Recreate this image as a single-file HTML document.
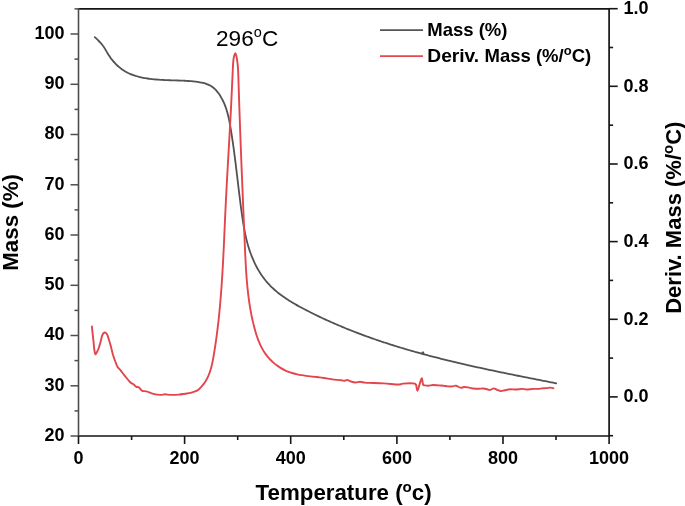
<!DOCTYPE html>
<html><head><meta charset="utf-8"><style>
html,body{margin:0;padding:0;background:#fff;}
body{width:685px;height:506px;overflow:hidden;font-family:"Liberation Sans",sans-serif;}
svg{display:block;will-change:transform;}
</style></head><body>
<svg width="685" height="506" viewBox="0 0 685 506">
<path d="M78.5,8.9 H609.1 V436.0 H78.5" fill="none" stroke="#141414" stroke-width="1.7"/>
<line x1="78.5" y1="8.1" x2="78.5" y2="436.8" stroke="#4e4e4e" stroke-width="1.6"/>
<line x1="70.5" y1="436.0" x2="78.5" y2="436.0" stroke="#4e4e4e" stroke-width="1.5"/>
<text x="64.6" y="440.9" text-anchor="end" font-size="18" font-weight="bold" font-family="Liberation Sans, sans-serif">20</text>
<line x1="74.5" y1="410.9" x2="78.5" y2="410.9" stroke="#4e4e4e" stroke-width="1.5"/>
<line x1="70.5" y1="385.8" x2="78.5" y2="385.8" stroke="#4e4e4e" stroke-width="1.5"/>
<text x="64.6" y="390.7" text-anchor="end" font-size="18" font-weight="bold" font-family="Liberation Sans, sans-serif">30</text>
<line x1="74.5" y1="360.6" x2="78.5" y2="360.6" stroke="#4e4e4e" stroke-width="1.5"/>
<line x1="70.5" y1="335.5" x2="78.5" y2="335.5" stroke="#4e4e4e" stroke-width="1.5"/>
<text x="64.6" y="340.4" text-anchor="end" font-size="18" font-weight="bold" font-family="Liberation Sans, sans-serif">40</text>
<line x1="74.5" y1="310.4" x2="78.5" y2="310.4" stroke="#4e4e4e" stroke-width="1.5"/>
<line x1="70.5" y1="285.3" x2="78.5" y2="285.3" stroke="#4e4e4e" stroke-width="1.5"/>
<text x="64.6" y="290.2" text-anchor="end" font-size="18" font-weight="bold" font-family="Liberation Sans, sans-serif">50</text>
<line x1="74.5" y1="260.1" x2="78.5" y2="260.1" stroke="#4e4e4e" stroke-width="1.5"/>
<line x1="70.5" y1="235.0" x2="78.5" y2="235.0" stroke="#4e4e4e" stroke-width="1.5"/>
<text x="64.6" y="239.9" text-anchor="end" font-size="18" font-weight="bold" font-family="Liberation Sans, sans-serif">60</text>
<line x1="74.5" y1="209.9" x2="78.5" y2="209.9" stroke="#4e4e4e" stroke-width="1.5"/>
<line x1="70.5" y1="184.8" x2="78.5" y2="184.8" stroke="#4e4e4e" stroke-width="1.5"/>
<text x="64.6" y="189.7" text-anchor="end" font-size="18" font-weight="bold" font-family="Liberation Sans, sans-serif">70</text>
<line x1="74.5" y1="159.6" x2="78.5" y2="159.6" stroke="#4e4e4e" stroke-width="1.5"/>
<line x1="70.5" y1="134.5" x2="78.5" y2="134.5" stroke="#4e4e4e" stroke-width="1.5"/>
<text x="64.6" y="139.4" text-anchor="end" font-size="18" font-weight="bold" font-family="Liberation Sans, sans-serif">80</text>
<line x1="74.5" y1="109.4" x2="78.5" y2="109.4" stroke="#4e4e4e" stroke-width="1.5"/>
<line x1="70.5" y1="84.3" x2="78.5" y2="84.3" stroke="#4e4e4e" stroke-width="1.5"/>
<text x="64.6" y="89.2" text-anchor="end" font-size="18" font-weight="bold" font-family="Liberation Sans, sans-serif">90</text>
<line x1="74.5" y1="59.1" x2="78.5" y2="59.1" stroke="#4e4e4e" stroke-width="1.5"/>
<line x1="70.5" y1="34.0" x2="78.5" y2="34.0" stroke="#4e4e4e" stroke-width="1.5"/>
<text x="64.6" y="38.9" text-anchor="end" font-size="18" font-weight="bold" font-family="Liberation Sans, sans-serif">100</text>
<line x1="74.5" y1="8.9" x2="78.5" y2="8.9" stroke="#4e4e4e" stroke-width="1.5"/>
<line x1="609.1" y1="435.7" x2="613.1" y2="435.7" stroke="#161616" stroke-width="1.6"/>
<line x1="609.1" y1="396.9" x2="617.7" y2="396.9" stroke="#161616" stroke-width="1.6"/>
<text x="623.6" y="402.1" font-size="18" font-weight="bold" font-family="Liberation Sans, sans-serif">0.0</text>
<line x1="609.1" y1="358.1" x2="613.1" y2="358.1" stroke="#161616" stroke-width="1.6"/>
<line x1="609.1" y1="319.3" x2="617.7" y2="319.3" stroke="#161616" stroke-width="1.6"/>
<text x="623.6" y="324.5" font-size="18" font-weight="bold" font-family="Liberation Sans, sans-serif">0.2</text>
<line x1="609.1" y1="280.4" x2="613.1" y2="280.4" stroke="#161616" stroke-width="1.6"/>
<line x1="609.1" y1="241.6" x2="617.7" y2="241.6" stroke="#161616" stroke-width="1.6"/>
<text x="623.6" y="246.8" font-size="18" font-weight="bold" font-family="Liberation Sans, sans-serif">0.4</text>
<line x1="609.1" y1="202.8" x2="613.1" y2="202.8" stroke="#161616" stroke-width="1.6"/>
<line x1="609.1" y1="164.0" x2="617.7" y2="164.0" stroke="#161616" stroke-width="1.6"/>
<text x="623.6" y="169.2" font-size="18" font-weight="bold" font-family="Liberation Sans, sans-serif">0.6</text>
<line x1="609.1" y1="125.2" x2="613.1" y2="125.2" stroke="#161616" stroke-width="1.6"/>
<line x1="609.1" y1="86.3" x2="617.7" y2="86.3" stroke="#161616" stroke-width="1.6"/>
<text x="623.6" y="91.5" font-size="18" font-weight="bold" font-family="Liberation Sans, sans-serif">0.8</text>
<line x1="609.1" y1="47.5" x2="613.1" y2="47.5" stroke="#161616" stroke-width="1.6"/>
<line x1="609.1" y1="8.7" x2="617.7" y2="8.7" stroke="#161616" stroke-width="1.6"/>
<text x="623.6" y="13.9" font-size="18" font-weight="bold" font-family="Liberation Sans, sans-serif">1.0</text>
<line x1="78.5" y1="436.0" x2="78.5" y2="444.0" stroke="#161616" stroke-width="1.6"/>
<text x="78.5" y="463.7" text-anchor="middle" font-size="18" font-weight="bold" font-family="Liberation Sans, sans-serif">0</text>
<line x1="131.6" y1="436.0" x2="131.6" y2="440.0" stroke="#161616" stroke-width="1.6"/>
<line x1="184.6" y1="436.0" x2="184.6" y2="444.0" stroke="#161616" stroke-width="1.6"/>
<text x="184.6" y="463.7" text-anchor="middle" font-size="18" font-weight="bold" font-family="Liberation Sans, sans-serif">200</text>
<line x1="237.7" y1="436.0" x2="237.7" y2="440.0" stroke="#161616" stroke-width="1.6"/>
<line x1="290.7" y1="436.0" x2="290.7" y2="444.0" stroke="#161616" stroke-width="1.6"/>
<text x="290.7" y="463.7" text-anchor="middle" font-size="18" font-weight="bold" font-family="Liberation Sans, sans-serif">400</text>
<line x1="343.8" y1="436.0" x2="343.8" y2="440.0" stroke="#161616" stroke-width="1.6"/>
<line x1="396.9" y1="436.0" x2="396.9" y2="444.0" stroke="#161616" stroke-width="1.6"/>
<text x="396.9" y="463.7" text-anchor="middle" font-size="18" font-weight="bold" font-family="Liberation Sans, sans-serif">600</text>
<line x1="449.9" y1="436.0" x2="449.9" y2="440.0" stroke="#161616" stroke-width="1.6"/>
<line x1="503.0" y1="436.0" x2="503.0" y2="444.0" stroke="#161616" stroke-width="1.6"/>
<text x="503.0" y="463.7" text-anchor="middle" font-size="18" font-weight="bold" font-family="Liberation Sans, sans-serif">800</text>
<line x1="556.0" y1="436.0" x2="556.0" y2="440.0" stroke="#161616" stroke-width="1.6"/>
<line x1="609.1" y1="436.0" x2="609.1" y2="444.0" stroke="#161616" stroke-width="1.6"/>
<text x="609.1" y="463.7" text-anchor="middle" font-size="18" font-weight="bold" font-family="Liberation Sans, sans-serif">1000</text>
<path d="M94.78,37.19 C95.06,37.43 95.88,38.18 96.42,38.68 C96.96,39.18 97.50,39.69 98.02,40.20 C98.54,40.72 99.06,41.23 99.56,41.76 C100.06,42.29 100.55,42.83 101.02,43.38 C101.49,43.93 101.95,44.49 102.39,45.06 C102.83,45.63 103.25,46.22 103.65,46.82 C104.06,47.42 104.45,48.03 104.83,48.65 C105.21,49.26 105.58,49.89 105.95,50.51 C106.32,51.14 106.68,51.77 107.06,52.40 C107.43,53.02 107.80,53.65 108.19,54.27 C108.57,54.89 108.96,55.50 109.37,56.11 C109.78,56.71 110.20,57.31 110.62,57.90 C111.05,58.49 111.49,59.07 111.95,59.64 C112.40,60.22 112.86,60.78 113.33,61.33 C113.81,61.88 114.29,62.42 114.79,62.96 C115.28,63.49 115.79,64.01 116.30,64.52 C116.82,65.03 117.35,65.52 117.88,66.01 C118.42,66.49 118.97,66.96 119.53,67.42 C120.08,67.88 120.65,68.33 121.23,68.76 C121.81,69.19 122.40,69.61 122.99,70.01 C123.59,70.41 124.20,70.80 124.81,71.18 C125.43,71.55 126.06,71.90 126.69,72.24 C127.33,72.59 127.97,72.91 128.62,73.22 C129.28,73.53 129.94,73.82 130.61,74.10 C131.28,74.38 131.95,74.64 132.64,74.90 C133.32,75.15 134.01,75.38 134.70,75.61 C135.40,75.84 136.10,76.05 136.80,76.25 C137.51,76.45 138.22,76.64 138.93,76.82 C139.64,77.00 140.36,77.16 141.08,77.32 C141.80,77.48 142.52,77.63 143.25,77.77 C143.97,77.91 144.70,78.04 145.43,78.16 C146.15,78.28 146.88,78.40 147.61,78.50 C148.34,78.61 149.07,78.71 149.80,78.80 C150.53,78.90 151.25,78.98 151.98,79.06 C152.70,79.15 153.43,79.22 154.15,79.29 C154.87,79.36 155.59,79.43 156.31,79.49 C157.03,79.56 157.75,79.61 158.46,79.67 C159.18,79.72 159.90,79.77 160.61,79.82 C161.33,79.86 162.04,79.90 162.76,79.94 C163.47,79.98 164.19,80.02 164.90,80.05 C165.62,80.09 166.33,80.12 167.05,80.15 C167.77,80.18 168.48,80.21 169.20,80.23 C169.92,80.26 170.63,80.28 171.35,80.31 C172.07,80.33 172.79,80.35 173.51,80.37 C174.24,80.39 174.96,80.41 175.69,80.43 C176.41,80.45 177.14,80.47 177.86,80.50 C178.59,80.52 179.32,80.54 180.05,80.57 C180.78,80.59 181.51,80.62 182.24,80.65 C182.97,80.67 183.70,80.71 184.44,80.74 C185.17,80.78 185.90,80.82 186.63,80.86 C187.37,80.90 188.10,80.95 188.83,81.00 C189.57,81.06 190.30,81.11 191.04,81.18 C191.77,81.24 192.50,81.31 193.24,81.39 C193.97,81.47 194.70,81.55 195.44,81.64 C196.17,81.74 196.90,81.84 197.63,81.94 C198.36,82.05 199.09,82.17 199.82,82.30 C200.55,82.43 201.28,82.56 202.00,82.72 C202.72,82.87 203.43,83.04 204.14,83.23 C204.84,83.42 205.54,83.63 206.23,83.86 C206.91,84.09 207.59,84.34 208.25,84.63 C208.91,84.91 209.55,85.22 210.18,85.56 C210.80,85.90 211.41,86.27 212.00,86.68 C212.58,87.08 213.15,87.53 213.70,87.99 C214.25,88.46 214.77,88.96 215.29,89.47 C215.80,89.99 216.29,90.53 216.76,91.09 C217.24,91.64 217.69,92.22 218.13,92.81 C218.58,93.39 219.00,93.99 219.41,94.60 C219.82,95.20 220.21,95.82 220.59,96.44 C220.97,97.06 221.33,97.68 221.68,98.32 C222.03,98.95 222.37,99.59 222.69,100.23 C223.01,100.87 223.32,101.52 223.62,102.17 C223.92,102.83 224.20,103.49 224.48,104.15 C224.75,104.82 225.01,105.49 225.27,106.16 C225.52,106.83 225.76,107.51 225.99,108.19 C226.22,108.87 226.44,109.56 226.66,110.25 C226.87,110.94 227.07,111.63 227.27,112.33 C227.47,113.02 227.65,113.72 227.83,114.43 C228.01,115.13 228.19,115.83 228.35,116.54 C228.52,117.25 228.68,117.96 228.83,118.67 C228.99,119.38 229.14,120.10 229.28,120.81 C229.42,121.53 229.56,122.25 229.70,122.97 C229.83,123.69 229.96,124.41 230.09,125.13 C230.22,125.85 230.34,126.57 230.47,127.30 C230.59,128.02 230.71,128.74 230.83,129.46 C230.95,130.19 231.06,130.91 231.18,131.64 C231.29,132.36 231.41,133.08 231.52,133.81 C231.63,134.53 231.75,135.25 231.86,135.98 C231.97,136.70 232.08,137.42 232.19,138.15 C232.29,138.87 232.40,139.60 232.51,140.32 C232.61,141.04 232.72,141.77 232.82,142.49 C232.93,143.21 233.03,143.94 233.13,144.66 C233.23,145.39 233.33,146.11 233.43,146.83 C233.54,147.56 233.63,148.28 233.73,149.00 C233.83,149.73 233.93,150.45 234.03,151.17 C234.12,151.90 234.22,152.62 234.31,153.35 C234.41,154.07 234.50,154.79 234.60,155.52 C234.69,156.24 234.79,156.96 234.88,157.69 C234.97,158.41 235.06,159.13 235.15,159.86 C235.25,160.58 235.34,161.30 235.43,162.02 C235.52,162.75 235.61,163.47 235.70,164.19 C235.79,164.92 235.87,165.64 235.96,166.36 C236.05,167.09 236.14,167.81 236.23,168.53 C236.32,169.25 236.40,169.98 236.49,170.70 C236.58,171.42 236.67,172.14 236.75,172.86 C236.84,173.59 236.93,174.31 237.01,175.03 C237.10,175.75 237.18,176.47 237.27,177.20 C237.36,177.92 237.44,178.64 237.53,179.36 C237.61,180.08 237.70,180.80 237.79,181.52 C237.87,182.24 237.96,182.97 238.04,183.69 C238.13,184.41 238.22,185.13 238.30,185.85 C238.39,186.57 238.48,187.29 238.56,188.01 C238.65,188.73 238.74,189.45 238.82,190.17 C238.91,190.89 239.00,191.61 239.08,192.33 C239.17,193.05 239.26,193.77 239.35,194.49 C239.44,195.20 239.52,195.92 239.61,196.64 C239.70,197.36 239.79,198.08 239.88,198.80 C239.97,199.52 240.06,200.23 240.15,200.95 C240.24,201.67 240.33,202.39 240.42,203.10 C240.52,203.82 240.61,204.54 240.70,205.26 C240.80,205.97 240.89,206.69 240.98,207.41 C241.08,208.12 241.17,208.84 241.27,209.55 C241.36,210.27 241.46,210.99 241.56,211.70 C241.66,212.42 241.75,213.13 241.85,213.85 C241.95,214.56 242.05,215.28 242.15,215.99 C242.26,216.71 242.36,217.42 242.46,218.13 C242.57,218.85 242.67,219.56 242.78,220.27 C242.89,220.99 243.00,221.70 243.11,222.41 C243.23,223.12 243.34,223.84 243.46,224.55 C243.58,225.26 243.70,225.97 243.82,226.68 C243.94,227.39 244.07,228.10 244.20,228.81 C244.33,229.52 244.46,230.23 244.60,230.93 C244.73,231.64 244.87,232.35 245.02,233.06 C245.16,233.76 245.31,234.47 245.46,235.18 C245.62,235.88 245.77,236.59 245.94,237.29 C246.10,238.00 246.26,238.70 246.43,239.40 C246.61,240.11 246.78,240.81 246.96,241.51 C247.15,242.21 247.33,242.91 247.52,243.61 C247.72,244.31 247.92,245.01 248.12,245.71 C248.32,246.41 248.53,247.11 248.75,247.81 C248.97,248.50 249.19,249.20 249.42,249.89 C249.65,250.59 249.88,251.28 250.13,251.98 C250.37,252.67 250.62,253.36 250.88,254.05 C251.13,254.75 251.40,255.44 251.67,256.13 C251.94,256.81 252.22,257.50 252.51,258.19 C252.79,258.87 253.09,259.55 253.39,260.23 C253.69,260.91 254.00,261.59 254.31,262.27 C254.63,262.94 254.95,263.61 255.28,264.28 C255.61,264.94 255.94,265.61 256.29,266.27 C256.63,266.93 256.98,267.58 257.34,268.23 C257.70,268.88 258.07,269.53 258.44,270.17 C258.82,270.81 259.20,271.44 259.59,272.07 C259.97,272.70 260.37,273.32 260.77,273.94 C261.18,274.55 261.59,275.16 262.01,275.76 C262.42,276.37 262.85,276.96 263.28,277.55 C263.72,278.14 264.16,278.72 264.60,279.29 C265.05,279.87 265.51,280.43 265.97,280.99 C266.43,281.54 266.90,282.09 267.38,282.63 C267.86,283.17 268.34,283.71 268.83,284.23 C269.32,284.76 269.82,285.28 270.33,285.79 C270.83,286.30 271.34,286.80 271.86,287.30 C272.37,287.79 272.90,288.28 273.43,288.77 C273.95,289.25 274.49,289.73 275.03,290.20 C275.57,290.67 276.12,291.13 276.67,291.59 C277.22,292.05 277.77,292.50 278.34,292.94 C278.90,293.39 279.46,293.83 280.03,294.26 C280.61,294.70 281.18,295.13 281.76,295.55 C282.34,295.97 282.93,296.39 283.52,296.80 C284.10,297.22 284.70,297.63 285.29,298.03 C285.89,298.43 286.49,298.83 287.09,299.23 C287.70,299.62 288.31,300.01 288.92,300.40 C289.53,300.78 290.14,301.17 290.76,301.54 C291.38,301.92 292.00,302.30 292.62,302.67 C293.24,303.04 293.87,303.41 294.50,303.77 C295.12,304.13 295.75,304.49 296.39,304.85 C297.02,305.21 297.65,305.57 298.29,305.92 C298.93,306.27 299.56,306.62 300.20,306.97 C300.84,307.31 301.48,307.66 302.13,308.00 C302.77,308.34 303.41,308.68 304.06,309.02 C304.70,309.36 305.35,309.70 305.99,310.03 C306.64,310.37 307.28,310.70 307.93,311.03 C308.58,311.36 309.23,311.69 309.88,312.02 C310.53,312.35 311.17,312.68 311.83,313.00 C312.48,313.33 313.13,313.65 313.78,313.97 C314.43,314.30 315.08,314.62 315.74,314.93 C316.39,315.25 317.04,315.57 317.70,315.89 C318.35,316.20 319.01,316.52 319.66,316.83 C320.32,317.14 320.98,317.45 321.63,317.76 C322.29,318.07 322.95,318.38 323.61,318.69 C324.27,318.99 324.92,319.30 325.58,319.60 C326.24,319.90 326.90,320.21 327.57,320.51 C328.23,320.81 328.89,321.11 329.55,321.40 C330.21,321.70 330.88,322.00 331.54,322.29 C332.20,322.58 332.87,322.88 333.53,323.17 C334.20,323.46 334.86,323.75 335.53,324.04 C336.20,324.33 336.86,324.61 337.53,324.90 C338.20,325.19 338.87,325.47 339.54,325.75 C340.20,326.04 340.87,326.32 341.54,326.60 C342.21,326.88 342.88,327.16 343.55,327.43 C344.23,327.71 344.90,327.99 345.57,328.26 C346.24,328.54 346.91,328.81 347.59,329.08 C348.26,329.35 348.93,329.62 349.61,329.89 C350.28,330.16 350.96,330.43 351.63,330.69 C352.31,330.96 352.99,331.23 353.66,331.49 C354.34,331.75 355.02,332.02 355.69,332.28 C356.37,332.54 357.05,332.80 357.73,333.06 C358.41,333.32 359.09,333.57 359.77,333.83 C360.45,334.08 361.13,334.34 361.81,334.59 C362.49,334.85 363.17,335.10 363.85,335.35 C364.53,335.60 365.21,335.85 365.90,336.10 C366.58,336.35 367.26,336.59 367.95,336.84 C368.63,337.08 369.32,337.33 370.00,337.57 C370.68,337.82 371.37,338.06 372.06,338.30 C372.74,338.54 373.43,338.78 374.11,339.02 C374.80,339.26 375.49,339.50 376.17,339.73 C376.86,339.97 377.55,340.20 378.24,340.44 C378.93,340.67 379.62,340.91 380.30,341.14 C380.99,341.37 381.68,341.60 382.37,341.83 C383.06,342.06 383.75,342.29 384.45,342.51 C385.14,342.74 385.83,342.97 386.52,343.19 C387.21,343.42 387.90,343.64 388.60,343.86 C389.29,344.09 389.98,344.31 390.67,344.53 C391.37,344.75 392.06,344.97 392.76,345.19 C393.45,345.41 394.14,345.63 394.84,345.84 C395.53,346.06 396.23,346.27 396.93,346.49 C397.62,346.70 398.32,346.92 399.01,347.13 C399.71,347.34 400.41,347.55 401.10,347.76 C401.80,347.97 402.50,348.18 403.20,348.39 C403.89,348.60 404.59,348.81 405.29,349.01 C405.99,349.22 406.69,349.43 407.39,349.63 C408.09,349.84 408.79,350.04 409.49,350.24 C410.18,350.44 410.89,350.65 411.59,350.85 C412.29,351.05 412.99,351.25 413.69,351.45 C414.39,351.65 415.09,351.84 415.79,352.04 C416.49,352.24 417.19,352.43 417.90,352.63 C418.60,352.83 419.30,353.02 420.00,353.21 C420.71,353.41 421.41,353.60 422.11,353.79 C422.82,353.98 423.52,354.17 424.22,354.36 C424.93,354.55 425.63,354.74 426.34,354.93 C427.04,355.12 427.75,355.31 428.45,355.50 C429.16,355.68 429.86,355.87 430.57,356.05 C431.27,356.24 431.98,356.42 432.68,356.61 C433.39,356.79 434.09,356.97 434.80,357.16 C435.51,357.34 436.21,357.52 436.92,357.70 C437.63,357.88 438.33,358.06 439.04,358.24 C439.75,358.42 440.46,358.60 441.16,358.77 C441.87,358.95 442.58,359.13 443.29,359.30 C443.99,359.48 444.70,359.66 445.41,359.83 C446.12,360.01 446.83,360.18 447.54,360.35 C448.24,360.53 448.95,360.70 449.66,360.87 C450.37,361.04 451.08,361.21 451.79,361.38 C452.50,361.56 453.21,361.72 453.92,361.89 C454.63,362.06 455.34,362.23 456.05,362.40 C456.76,362.57 457.47,362.74 458.18,362.90 C458.89,363.07 459.60,363.24 460.31,363.40 C461.02,363.57 461.73,363.73 462.44,363.90 C463.15,364.06 463.86,364.22 464.57,364.39 C465.28,364.55 465.99,364.71 466.70,364.87 C467.41,365.04 468.13,365.20 468.84,365.36 C469.55,365.52 470.26,365.68 470.97,365.84 C471.68,366.00 472.39,366.16 473.11,366.32 C473.82,366.48 474.53,366.63 475.24,366.79 C475.95,366.95 476.66,367.11 477.38,367.26 C478.09,367.42 478.80,367.58 479.51,367.73 C480.22,367.89 480.94,368.04 481.65,368.20 C482.36,368.35 483.07,368.51 483.78,368.66 C484.50,368.81 485.21,368.97 485.92,369.12 C486.63,369.27 487.34,369.43 488.06,369.58 C488.77,369.73 489.48,369.88 490.19,370.03 C490.91,370.18 491.62,370.34 492.33,370.49 C493.04,370.64 493.75,370.79 494.47,370.94 C495.18,371.09 495.89,371.24 496.60,371.38 C497.32,371.53 498.03,371.68 498.74,371.83 C499.45,371.98 500.16,372.13 500.88,372.27 C501.59,372.42 502.30,372.57 503.01,372.71 C503.73,372.86 504.44,373.01 505.15,373.15 C505.86,373.30 506.57,373.45 507.29,373.59 C508.00,373.74 508.71,373.88 509.42,374.03 C510.13,374.17 510.84,374.32 511.56,374.46 C512.27,374.61 512.98,374.75 513.69,374.89 C514.40,375.04 515.11,375.18 515.82,375.33 C516.54,375.47 517.25,375.61 517.96,375.75 C518.67,375.90 519.38,376.04 520.09,376.18 C520.80,376.33 521.51,376.47 522.22,376.61 C522.93,376.75 523.64,376.89 524.36,377.03 C525.07,377.18 525.78,377.32 526.49,377.46 C527.20,377.60 527.91,377.74 528.62,377.88 C529.33,378.02 530.04,378.16 530.75,378.30 C531.46,378.45 532.17,378.59 532.87,378.73 C533.58,378.87 534.29,379.01 535.00,379.15 C535.71,379.29 536.42,379.43 537.13,379.57 C537.84,379.71 538.55,379.85 539.25,379.99 C539.96,380.13 540.67,380.27 541.38,380.41 C542.09,380.54 542.79,380.68 543.50,380.82 C544.21,380.96 544.92,381.10 545.62,381.24 C546.33,381.38 547.04,381.52 547.75,381.66 C548.45,381.80 549.16,381.94 549.87,382.08 C550.57,382.22 551.28,382.36 551.98,382.49 C552.69,382.63 553.40,382.77 554.10,382.91 C554.81,383.05 555.86,383.26 556.22,383.33" fill="none" stroke="#525252" stroke-width="1.8" stroke-linejoin="round" stroke-linecap="round"/>
<path d="M91.90,326.50 C92.03,327.78 92.43,331.72 92.70,334.20 C92.97,336.68 93.23,338.82 93.50,341.40 C93.77,343.98 93.98,347.57 94.30,349.70 C94.62,351.83 94.97,353.82 95.40,354.20 C95.83,354.58 96.37,352.95 96.90,352.00 C97.43,351.05 98.02,350.07 98.60,348.50 C99.18,346.93 99.80,344.78 100.40,342.60 C101.00,340.42 101.50,337.08 102.20,335.40 C102.90,333.72 103.80,332.70 104.60,332.50 C105.40,332.30 106.32,333.12 107.00,334.20 C107.68,335.28 108.12,337.22 108.70,339.00 C109.28,340.78 109.80,342.33 110.50,344.90 C111.20,347.47 112.10,351.63 112.90,354.40 C113.70,357.17 114.52,359.42 115.30,361.50 C116.08,363.58 116.72,365.42 117.60,366.90 C118.48,368.38 119.40,368.92 120.60,370.40 C121.80,371.88 123.23,373.87 124.80,375.80 C126.37,377.73 128.55,380.58 130.00,382.00 C131.45,383.42 132.43,383.48 133.50,384.30 C134.57,385.12 135.52,386.40 136.40,386.90 C137.28,387.40 137.82,386.65 138.80,387.30 C139.78,387.95 141.03,390.12 142.30,390.80 C143.57,391.48 144.55,390.88 146.40,391.40 C148.25,391.92 151.07,393.32 153.40,393.90 C155.73,394.48 158.47,394.83 160.40,394.90 C162.33,394.97 163.25,394.30 165.00,394.30 C166.75,394.30 168.57,394.85 170.90,394.90 C173.23,394.95 176.67,394.80 179.00,394.60 C181.33,394.40 182.95,394.00 184.90,393.70 C186.85,393.40 188.67,393.31 190.70,392.80 C192.73,392.29 195.41,391.52 197.06,390.66 C198.70,389.79 199.51,388.66 200.59,387.59 C201.67,386.51 202.65,385.38 203.55,384.20 C204.46,383.03 205.27,381.80 206.02,380.54 C206.76,379.28 207.42,377.97 208.04,376.64 C208.65,375.30 209.18,373.93 209.68,372.53 C210.18,371.14 210.61,369.71 211.02,368.27 C211.42,366.83 211.77,365.36 212.11,363.88 C212.44,362.41 212.73,360.91 213.02,359.42 C213.30,357.92 213.55,356.41 213.81,354.90 C214.06,353.40 214.30,351.89 214.54,350.38 C214.78,348.87 215.01,347.37 215.24,345.86 C215.47,344.36 215.69,342.85 215.90,341.35 C216.12,339.84 216.32,338.34 216.53,336.83 C216.73,335.33 216.93,333.82 217.12,332.32 C217.31,330.82 217.50,329.31 217.68,327.81 C217.86,326.30 218.04,324.80 218.21,323.30 C218.38,321.80 218.54,320.29 218.71,318.79 C218.87,317.29 219.02,315.78 219.18,314.28 C219.33,312.78 219.48,311.28 219.62,309.78 C219.76,308.27 219.90,306.77 220.04,305.27 C220.17,303.77 220.30,302.27 220.43,300.77 C220.56,299.26 220.68,297.76 220.80,296.26 C220.92,294.76 221.04,293.26 221.15,291.76 C221.27,290.25 221.38,288.75 221.48,287.25 C221.59,285.75 221.69,284.25 221.80,282.75 C221.90,281.24 222.00,279.74 222.09,278.24 C222.19,276.74 222.28,275.24 222.37,273.73 C222.46,272.23 222.55,270.73 222.64,269.23 C222.72,267.72 222.81,266.22 222.89,264.72 C222.97,263.22 223.05,261.71 223.13,260.21 C223.21,258.71 223.29,257.20 223.36,255.70 C223.44,254.19 223.51,252.69 223.58,251.19 C223.66,249.68 223.73,248.18 223.80,246.67 C223.87,245.17 223.94,243.66 224.01,242.16 C224.08,240.65 224.15,239.14 224.22,237.64 C224.28,236.13 224.35,234.62 224.42,233.12 C224.49,231.61 224.55,230.10 224.62,228.59 C224.69,227.09 224.75,225.58 224.82,224.07 C224.89,222.56 224.96,221.05 225.02,219.54 C225.09,218.03 225.16,216.52 225.23,215.01 C225.30,213.50 225.37,211.99 225.44,210.47 C225.51,208.96 225.58,207.45 225.65,205.94 C225.73,204.42 225.80,202.91 225.87,201.39 C225.95,199.88 226.03,198.36 226.10,196.85 C226.18,195.33 226.26,193.82 226.34,192.30 C226.42,190.79 226.50,189.27 226.58,187.75 C226.66,186.24 226.74,184.72 226.82,183.20 C226.90,181.69 226.99,180.17 227.07,178.65 C227.15,177.14 227.24,175.62 227.32,174.10 C227.41,172.59 227.49,171.07 227.58,169.55 C227.66,168.04 227.75,166.52 227.83,165.01 C227.92,163.49 228.01,161.98 228.09,160.46 C228.18,158.95 228.26,157.44 228.35,155.92 C228.44,154.41 228.52,152.90 228.61,151.39 C228.70,149.87 228.78,148.36 228.87,146.85 C228.96,145.34 229.04,143.83 229.13,142.33 C229.21,140.82 229.30,139.31 229.39,137.80 C229.47,136.30 229.56,134.79 229.64,133.29 C229.72,131.79 229.81,130.29 229.89,128.78 C229.97,127.28 230.06,125.78 230.14,124.29 C230.22,122.79 230.30,121.29 230.38,119.80 C230.46,118.30 230.54,116.81 230.62,115.32 C230.70,113.83 230.78,112.34 230.86,110.85 C230.93,109.36 231.01,107.87 231.08,106.39 C231.16,104.90 231.23,103.42 231.30,101.94 C231.38,100.46 231.45,98.99 231.52,97.50 C231.59,96.02 231.66,94.54 231.73,93.05 C231.80,91.56 231.86,90.07 231.93,88.56 C232.00,87.05 232.07,85.53 232.14,84.00 C232.21,82.46 232.28,80.92 232.35,79.35 C232.42,77.78 232.49,76.20 232.57,74.59 C232.64,72.97 232.71,71.34 232.79,69.68 C232.87,68.02 232.93,66.29 233.04,64.65 C233.14,63.01 233.25,61.32 233.44,59.84 C233.62,58.36 233.85,56.87 234.17,55.77 C234.50,54.67 235.01,53.16 235.39,53.25 C235.77,53.34 236.14,55.15 236.43,56.33 C236.73,57.52 236.96,58.98 237.17,60.36 C237.38,61.74 237.54,63.17 237.69,64.62 C237.83,66.07 237.93,67.56 238.03,69.06 C238.12,70.56 238.19,72.09 238.25,73.62 C238.31,75.15 238.36,76.70 238.41,78.24 C238.46,79.78 238.50,81.33 238.55,82.87 C238.60,84.41 238.64,85.95 238.69,87.49 C238.74,89.03 238.79,90.56 238.84,92.10 C238.89,93.63 238.94,95.16 238.99,96.70 C239.04,98.23 239.09,99.76 239.14,101.29 C239.19,102.81 239.24,104.34 239.29,105.87 C239.34,107.39 239.40,108.92 239.45,110.44 C239.50,111.96 239.55,113.48 239.61,115.00 C239.66,116.53 239.71,118.04 239.77,119.56 C239.82,121.08 239.88,122.60 239.93,124.11 C239.99,125.63 240.04,127.14 240.10,128.66 C240.15,130.17 240.21,131.68 240.26,133.20 C240.32,134.71 240.37,136.22 240.43,137.73 C240.49,139.24 240.54,140.75 240.60,142.26 C240.66,143.77 240.72,145.27 240.77,146.78 C240.83,148.29 240.89,149.79 240.95,151.30 C241.01,152.80 241.06,154.31 241.12,155.81 C241.18,157.32 241.24,158.82 241.30,160.33 C241.36,161.83 241.42,163.33 241.48,164.84 C241.54,166.34 241.60,167.84 241.66,169.34 C241.72,170.84 241.78,172.35 241.84,173.85 C241.90,175.35 241.96,176.85 242.02,178.35 C242.08,179.85 242.15,181.35 242.21,182.85 C242.27,184.35 242.33,185.86 242.39,187.36 C242.45,188.86 242.52,190.36 242.58,191.86 C242.64,193.36 242.70,194.86 242.77,196.36 C242.83,197.86 242.89,199.36 242.95,200.86 C243.02,202.37 243.08,203.87 243.14,205.37 C243.21,206.87 243.27,208.37 243.33,209.88 C243.40,211.38 243.46,212.88 243.52,214.39 C243.59,215.89 243.65,217.39 243.71,218.90 C243.78,220.40 243.84,221.91 243.90,223.41 C243.97,224.92 244.03,226.42 244.10,227.93 C244.16,229.44 244.22,230.94 244.29,232.45 C244.35,233.96 244.42,235.47 244.48,236.98 C244.55,238.49 244.61,240.00 244.67,241.51 C244.74,243.02 244.80,244.54 244.87,246.05 C244.93,247.56 245.00,249.08 245.06,250.59 C245.13,252.11 245.20,253.62 245.27,255.14 C245.34,256.65 245.41,258.17 245.49,259.69 C245.56,261.20 245.64,262.72 245.72,264.23 C245.81,265.75 245.89,267.27 245.99,268.78 C246.08,270.30 246.18,271.81 246.28,273.32 C246.38,274.84 246.49,276.35 246.61,277.86 C246.73,279.37 246.85,280.89 246.98,282.40 C247.11,283.90 247.25,285.41 247.40,286.92 C247.55,288.43 247.70,289.93 247.87,291.44 C248.04,292.94 248.21,294.44 248.40,295.94 C248.59,297.44 248.78,298.94 248.99,300.43 C249.20,301.93 249.42,303.42 249.66,304.91 C249.89,306.40 250.14,307.89 250.40,309.37 C250.65,310.86 250.93,312.34 251.21,313.82 C251.50,315.29 251.80,316.77 252.12,318.24 C252.44,319.71 252.77,321.18 253.12,322.65 C253.46,324.11 253.83,325.57 254.21,327.03 C254.59,328.49 254.99,329.94 255.41,331.39 C255.83,332.83 256.26,334.28 256.73,335.70 C257.21,337.13 257.70,338.55 258.23,339.95 C258.77,341.35 259.34,342.74 259.95,344.10 C260.56,345.46 261.21,346.81 261.92,348.13 C262.63,349.44 263.38,350.74 264.19,352.00 C265.01,353.26 265.88,354.49 266.81,355.68 C267.74,356.88 268.75,358.04 269.80,359.16 C270.85,360.27 271.97,361.35 273.12,362.38 C274.28,363.40 275.49,364.38 276.73,365.30 C277.97,366.21 279.25,367.08 280.56,367.87 C281.87,368.67 283.21,369.40 284.56,370.06 C285.92,370.72 287.30,371.31 288.69,371.83 C290.08,372.36 291.49,372.82 292.92,373.23 C294.34,373.65 295.78,374.00 297.23,374.32 C298.68,374.64 300.15,374.91 301.62,375.16 C303.09,375.41 304.57,375.62 306.06,375.82 C307.55,376.02 309.05,376.19 310.55,376.36 C312.05,376.54 313.56,376.69 315.07,376.85 C316.58,377.02 318.10,377.16 319.61,377.35 C321.11,377.54 322.22,377.71 324.10,378.00 C325.98,378.29 328.80,378.78 330.90,379.10 C333.00,379.42 334.95,379.70 336.70,379.90 C338.45,380.10 340.03,380.15 341.40,380.30 C342.77,380.45 343.93,380.87 344.90,380.80 C345.87,380.73 346.23,379.80 347.20,379.90 C348.17,380.00 349.33,380.97 350.70,381.40 C352.07,381.83 353.83,382.43 355.40,382.50 C356.97,382.57 358.55,381.78 360.10,381.80 C361.65,381.82 363.18,382.42 364.70,382.60 C366.22,382.78 366.02,382.77 369.20,382.90 C372.38,383.03 378.93,383.13 383.80,383.40 C388.67,383.67 395.23,384.47 398.40,384.50 C401.57,384.53 400.37,383.78 402.80,383.60 C405.23,383.42 410.82,383.25 413.00,383.40 C415.18,383.55 415.17,383.28 415.90,384.50 C416.63,385.72 416.78,390.77 417.40,390.70 C418.02,390.63 418.87,386.18 419.60,384.10 C420.33,382.02 421.22,378.10 421.80,378.20 C422.38,378.30 422.55,383.50 423.10,384.70 C423.65,385.90 424.25,385.23 425.10,385.40 C425.95,385.57 426.83,385.77 428.20,385.70 C429.57,385.63 431.60,385.05 433.30,385.00 C435.00,384.95 436.70,385.28 438.40,385.40 C440.10,385.52 441.97,385.53 443.50,385.70 C445.03,385.87 446.07,386.28 447.60,386.40 C449.13,386.52 451.33,386.52 452.70,386.40 C454.07,386.28 454.43,385.47 455.80,385.70 C457.17,385.93 459.55,387.58 460.90,387.80 C462.25,388.02 462.72,387.07 463.90,387.00 C465.08,386.93 466.47,387.15 468.00,387.40 C469.53,387.65 471.40,388.27 473.10,388.50 C474.80,388.73 476.48,388.80 478.20,388.80 C479.92,388.80 481.93,388.43 483.40,388.50 C484.87,388.57 485.92,388.95 487.00,389.20 C488.08,389.45 488.77,390.13 489.90,390.00 C491.03,389.87 492.62,388.43 493.80,388.40 C494.98,388.37 495.82,389.35 497.00,389.80 C498.18,390.25 499.62,391.02 500.90,391.10 C502.18,391.18 503.15,390.60 504.70,390.30 C506.25,390.00 508.37,389.43 510.20,389.30 C512.03,389.17 513.70,389.57 515.70,389.50 C517.70,389.43 520.38,388.90 522.20,388.90 C524.02,388.90 524.77,389.50 526.60,389.50 C528.43,389.50 531.18,389.00 533.20,388.90 C535.22,388.80 537.25,388.98 538.70,388.90 C540.15,388.82 540.63,388.53 541.90,388.40 C543.17,388.27 544.83,388.23 546.30,388.10 C547.77,387.97 549.52,387.57 550.70,387.60 C551.88,387.63 552.95,388.18 553.40,388.30" fill="none" stroke="#e3454c" stroke-width="1.9" stroke-linejoin="round" stroke-linecap="round"/>
<path d="M421.9,353.4 L422.6,352.1 L423.4,352.3 L423.8,353.9" fill="none" stroke="#525252" stroke-width="1.4" stroke-linejoin="round"/>
<line x1="380" y1="30.1" x2="423" y2="30.1" stroke="#555" stroke-width="1.8"/>
<line x1="380" y1="56.1" x2="423" y2="56.1" stroke="#e4474e" stroke-width="1.9"/>
<text x="427.3" y="36.3" font-size="18.5" font-weight="bold" font-family="Liberation Sans, sans-serif">Mass (%)</text>
<text x="427.3" y="62.3" font-size="18.5" font-weight="bold" font-family="Liberation Sans, sans-serif"><tspan font-size="19.2">Deriv.</tspan><tspan dx="0.2"> Mass (%/</tspan><tspan font-size="13" dy="-7.5">o</tspan><tspan dy="7.5">C)</tspan></text>
<text x="216.0" y="45.7" font-size="22.6" font-family="Liberation Sans, sans-serif">296<tspan font-size="14.5" dy="-8.8">o</tspan><tspan dy="8.8" dx="0.3">C</tspan></text>
<text x="343.6" y="500.2" text-anchor="middle" font-size="22.3" font-weight="bold" font-family="Liberation Sans, sans-serif">Temperature (<tspan font-size="15" dy="-8.5">o</tspan><tspan dy="8.5">c)</tspan></text>
<text transform="translate(17.8,222.4) rotate(-90)" text-anchor="middle" font-size="22.3" font-weight="bold" font-family="Liberation Sans, sans-serif">Mass (%)</text>
<text transform="translate(681,217.7) rotate(-90)" text-anchor="middle" font-size="22" font-weight="bold" font-family="Liberation Sans, sans-serif">Deriv. Mass (%/<tspan font-size="15" dy="-8.5">o</tspan><tspan dy="8.5">C)</tspan></text>
</svg>
</body></html>
